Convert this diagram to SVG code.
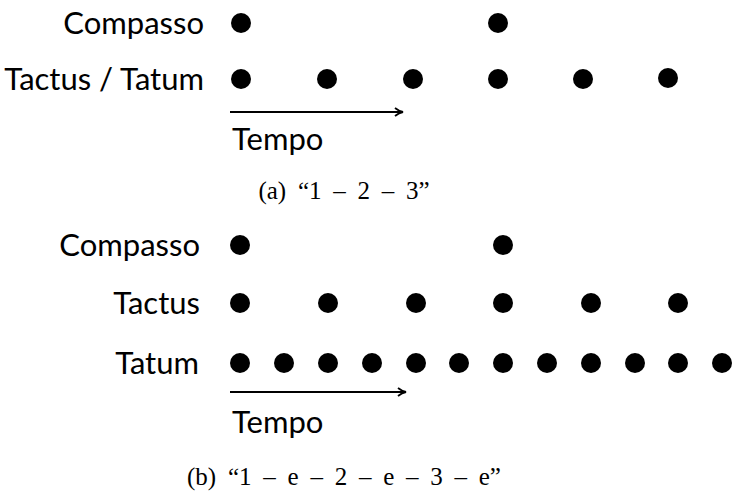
<svg xmlns="http://www.w3.org/2000/svg" width="732" height="493" viewBox="0 0 732 493">
<style>
.lbl{font-family:Lato,"Open Sans",sans-serif;font-size:31px;fill:#000;text-anchor:end}
.tmp{font-family:Lato,"Open Sans",sans-serif;font-size:31px;fill:#000}
.cap{font-family:"Liberation Serif",serif;font-size:25px;fill:#000;text-anchor:middle;word-spacing:5.5px}
.dot{fill:#000}
.arr{stroke:#000;stroke-width:2.2;fill:none;marker-end:url(#ah)}
</style>
<defs>
<marker id="ah" markerWidth="10" markerHeight="10" refX="9" refY="5" orient="auto" markerUnits="userSpaceOnUse">
<path d="M1,1 Q5,4.2 9,5 Q5,5.8 1,9" fill="none" stroke="#000" stroke-width="1.8"/>
</marker>
</defs>
<rect width="732" height="493" fill="#fff"/>
<g id="panel-a">
<text class="lbl" x="204" y="34">Compasso</text>
<text class="lbl" x="204" y="90">Tactus / Tatum</text>
<g id="a-compasso" class="dot"><circle cx="241" cy="23" r="10"/><circle cx="498" cy="23" r="10"/></g>
<g id="a-tactus" class="dot">
<circle cx="241" cy="79" r="10"/><circle cx="327" cy="79" r="10"/><circle cx="413" cy="79" r="10"/><circle cx="498" cy="79" r="10"/><circle cx="583" cy="79" r="10"/><circle cx="668" cy="78" r="10"/>
</g>
<text class="tmp" x="232" y="150">Tempo</text>
<text class="cap" x="344" y="199">(a) “1 – 2 – 3”</text>
</g>
<g id="panel-b">
<text class="lbl" x="200" y="256">Compasso</text>
<text class="lbl" x="200" y="314">Tactus</text>
<text class="lbl" x="199" y="374">Tatum</text>
<g id="b-compasso" class="dot"><circle cx="240" cy="245" r="10"/><circle cx="503" cy="245" r="10"/></g>
<g id="b-tactus" class="dot">
<circle cx="240" cy="303" r="10"/><circle cx="328" cy="303" r="10"/><circle cx="416" cy="303" r="10"/><circle cx="503" cy="303" r="10"/><circle cx="591" cy="303" r="10"/><circle cx="678" cy="303" r="10"/>
</g>
<g id="b-tatum" class="dot">
<circle cx="240" cy="363" r="10"/><circle cx="284" cy="363" r="10"/><circle cx="328" cy="363" r="10"/><circle cx="372" cy="363" r="10"/><circle cx="416" cy="363" r="10"/><circle cx="459" cy="363" r="10"/><circle cx="503" cy="363" r="10"/><circle cx="547" cy="363" r="10"/><circle cx="591" cy="363" r="10"/><circle cx="635" cy="363" r="10"/><circle cx="678" cy="363" r="10"/><circle cx="722" cy="363" r="10"/>
</g>
<text class="tmp" x="232" y="433">Tempo</text>
<text class="cap" x="344" y="485">(b) “1 – e – 2 – e – 3 – e”</text>
</g>
<g id="connectors">
<line class="arr" x1="230" y1="112" x2="403" y2="112"/>
<line class="arr" x1="230" y1="392" x2="406" y2="392"/>
</g>
</svg>
